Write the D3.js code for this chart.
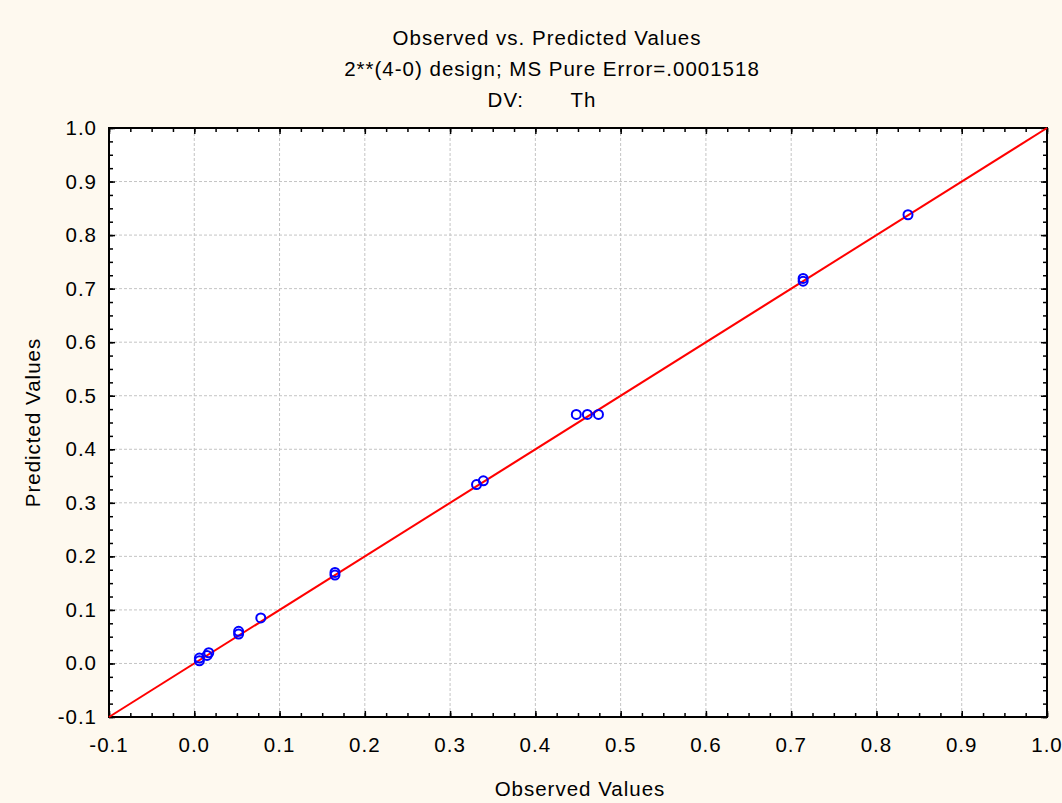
<!DOCTYPE html>
<html>
<head>
<meta charset="utf-8">
<script src="https://cdn.jsdelivr.net/npm/d3@7"></script>
<style>
  body { margin: 0; background: #fef9ef; }
  text { font-family: "Liberation Sans", Arial, sans-serif; fill: #000; font-size: 20.5px; letter-spacing: 1px; }
</style>
</head>
<body>
<div id="chart"></div>
<script>
// observed / predicted pairs
var observed  = [0.006, 0.006, 0.015, 0.017, 0.052, 0.052, 0.078, 0.165, 0.165, 0.331, 0.339, 0.448, 0.461, 0.474, 0.714, 0.714, 0.837];
var predicted = [0.005, 0.010, 0.015, 0.020, 0.055, 0.060, 0.085, 0.165, 0.170, 0.334, 0.341, 0.465, 0.465, 0.465, 0.714, 0.719, 0.838];
var titleLines = ["Observed vs. Predicted Values", "2**(4-0) design; MS Pure Error=.0001518", "DV:       Th"];
var titleCenters = [547, 552, 542];
var majorTicks = d3.range(-0.1, 1.0001, 0.1).map(d => Math.round(d * 10) / 10);
var minorTicks = d3.range(-0.1, 1.0001, 0.025).map(d => Math.round(d * 1000) / 1000);

var W = 1062, H = 803;
var margin = { top: 128, right: 15, bottom: 86, left: 109 };
var width = W - margin.left - margin.right;
var height = H - margin.top - margin.bottom;

var svg = d3.select("#chart").append("svg")
    .attr("width", W)
    .attr("height", H);

svg.append("rect").attr("width", W).attr("height", H).attr("fill", "#fef9ef");

var g = svg.append("g").attr("transform", `translate(${margin.left},${margin.top})`);

var x = d3.scaleLinear().domain([-0.1, 1.0]).range([0, width]);
var y = d3.scaleLinear().domain([-0.1, 1.0]).range([height, 0]);

g.append("rect").attr("width", width).attr("height", height).attr("fill", "#fff");

// dashed grid
g.append("g").selectAll("line.gx")
  .data(majorTicks.slice(1, -1)).enter().append("line")
    .attr("x1", d => x(d)).attr("x2", d => x(d))
    .attr("y1", 0).attr("y2", height)
    .attr("stroke", "#c4c4c4").attr("stroke-dasharray", "3,2");
g.append("g").selectAll("line.gy")
  .data(majorTicks.slice(1, -1)).enter().append("line")
    .attr("y1", d => y(d)).attr("y2", d => y(d))
    .attr("x1", 0).attr("x2", width)
    .attr("stroke", "#c4c4c4").attr("stroke-dasharray", "3,2");

// tick marks, inward on all four sides
function ticks(axis, transform, len) {
  var a = g.append("g").attr("transform", transform)
    .call(axis.tickSizeInner(-len).tickSizeOuter(0).tickFormat(""));
  a.select(".domain").remove();
  a.selectAll("line").attr("stroke", "#000").attr("stroke-width", 1.5);
}
[[minorTicks, 4], [majorTicks, 6]].forEach(([tv, len]) => {
  ticks(d3.axisBottom(x).tickValues(tv), `translate(0,${height})`, len);
  ticks(d3.axisTop(x).tickValues(tv), "translate(0,0)", len);
  ticks(d3.axisLeft(y).tickValues(tv), "translate(0,0)", len);
  ticks(d3.axisRight(y).tickValues(tv), `translate(${width},0)`, len);
});

// tick labels
g.append("g").selectAll("text")
  .data(majorTicks).enter().append("text")
    .attr("x", d => x(d)).attr("y", height + 35)
    .attr("text-anchor", "middle")
    .text(d => d.toFixed(1));
g.append("g").selectAll("text")
  .data(majorTicks).enter().append("text")
    .attr("x", -12).attr("y", d => y(d) + 7)
    .attr("text-anchor", "end")
    .text(d => d.toFixed(1));

// frame
g.append("rect").attr("width", width).attr("height", height)
  .attr("fill", "none").attr("stroke", "#000").attr("stroke-width", 2);

// identity line
g.append("line")
  .attr("x1", x(-0.1)).attr("y1", y(-0.1))
  .attr("x2", x(1.0)).attr("y2", y(1.0))
  .attr("stroke", "#ff0000").attr("stroke-width", 2);

// points
g.append("g").selectAll("circle")
  .data(observed.map((d, i) => [d, predicted[i]])).enter().append("circle")
    .attr("cx", d => x(d[0])).attr("cy", d => y(d[1]))
    .attr("r", 4.5)
    .attr("fill", "none").attr("stroke", "#0000ff").attr("stroke-width", 2);

// titles
svg.append("g").selectAll("text")
  .data(titleLines).enter().append("text")
    .attr("x", (d, i) => titleCenters[i]).attr("y", (d, i) => 45 + i * 31)
    .attr("text-anchor", "middle")
    .style("white-space", "pre")
    .text(d => d);

svg.append("text")
  .attr("x", 580).attr("y", 796)
  .attr("text-anchor", "middle")
  .text("Observed Values");
svg.append("text")
  .attr("transform", `translate(40,${margin.top + height / 2}) rotate(-90)`)
  .attr("text-anchor", "middle")
  .text("Predicted Values");
</script>
</body>
</html>
